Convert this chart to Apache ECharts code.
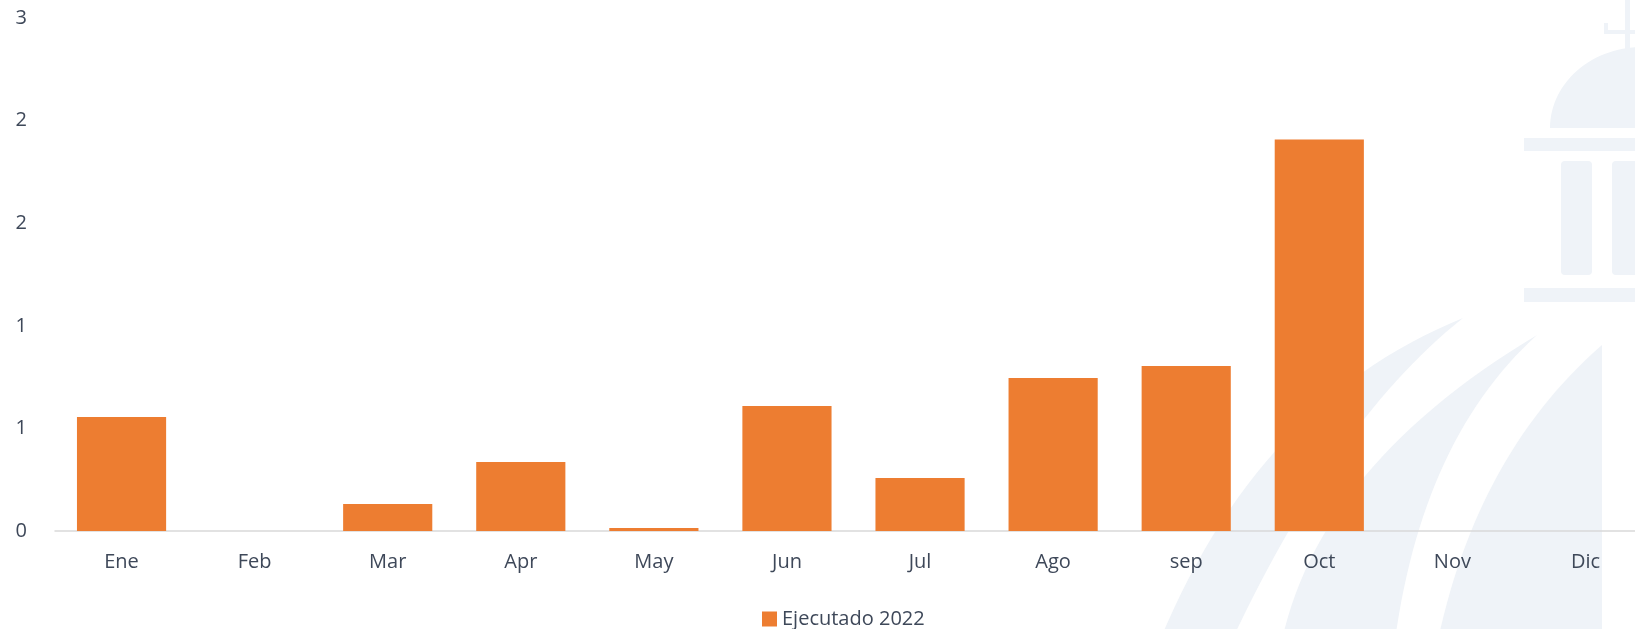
<!DOCTYPE html>
<html>
<head>
<meta charset="utf-8">
<script src="https://cdn.jsdelivr.net/npm/echarts@6/dist/echarts.min.js"></script>
<style>
  html, body { margin: 0; padding: 0; background: #fff; }
  #chart { width: 1635px; height: 629px; }
</style>
</head>
<body>
<div id="chart"></div>
<script>
// data
var months = ["Ene", "Feb", "Mar", "Apr", "May", "Jun", "Jul", "Ago", "sep", "Oct", "Nov", "Dic"];
var ejecutado2022 = [0.667, 0, 0.158, 0.404, 0.018, 0.731, 0.31, 0.895, 0.965, 2.29, 0, 0];
var seriesName = "Ejecutado 2022";

var textColor = "#3e4859";
var wmColor = "#eff3f8";

// sample a quadratic curve for the faint watermark shapes
function quad(p0, c, p1, n) {
  var pts = [];
  for (var i = 0; i <= n; i++) {
    var t = i / n, a = (1 - t) * (1 - t), b = 2 * (1 - t) * t, d = t * t;
    pts.push([a * p0[0] + b * c[0] + d * p1[0], a * p0[1] + b * c[1] + d * p1[1]]);
  }
  return pts;
}
function band(tip, lc, lb, rc, rb) {
  var left = quad(tip, lc, lb, 30);
  var right = quad(tip, rc, rb, 30).reverse();
  return left.concat(right);
}
function ellipseTop(cx, cy, rx, ry) {
  var pts = [];
  for (var i = 0; i <= 60; i++) {
    var a = Math.PI + Math.PI * i / 60;
    pts.push([cx + rx * Math.cos(a), cy + ry * Math.sin(a)]);
  }
  return pts;
}

var wm = [
  { type: "polygon", shape: { points: band([1463, 318], [1260, 400], [1160, 640], [1335, 420], [1232, 640]) } },
  { type: "polygon", shape: { points: band([1537, 335], [1321, 464], [1282, 640], [1423, 438], [1395, 640]) } },
  { type: "polygon", shape: { points: band([1602, 345], [1478, 453], [1438, 640], [1602, 450], [1602, 640]) } },
  { type: "polygon", shape: { points: ellipseTop(1642, 128, 92, 81) } },
  { type: "rect", shape: { x: 1625, y: 0, width: 5, height: 50 } },
  { type: "rect", shape: { x: 1604, y: 30, width: 35, height: 4 } },
  { type: "rect", shape: { x: 1604, y: 23, width: 4, height: 10 } },
  { type: "rect", shape: { x: 1524, y: 138, width: 120, height: 13 } },
  { type: "rect", shape: { x: 1561, y: 161, width: 31, height: 114, r: 4 } },
  { type: "rect", shape: { x: 1612, y: 161, width: 40, height: 114, r: 4 } },
  { type: "rect", shape: { x: 1524, y: 288, width: 120, height: 14 } }
].map(function (el) {
  el.style = { fill: wmColor };
  el.z = -10;
  el.silent = true;
  return el;
});

var myChart = echarts.init(document.getElementById("chart"));
var option = {
  backgroundColor: "#fff",
  animation: false,
  graphic: wm,
  grid: {
    left: 55,
    right: -17,
    top: 18,
    bottom: 98,
    containLabel: false,
    outerBoundsMode: "none"
  },
  legend: {
    data: [seriesName],
    left: 757,
    top: 604,
    icon: "rect",
    itemWidth: 15,
    itemHeight: 15,
    textStyle: {
      color: textColor,
      fontFamily: "Open Sans",
      fontSize: 20
    }
  },
  xAxis: {
    type: "category",
    data: months,
    axisTick: { show: false },
    axisLine: { lineStyle: { color: "#d9d9d9", width: 1.5 } },
    axisLabel: {
      color: textColor,
      fontFamily: "Open Sans",
      fontSize: 20,
      margin: 21
    }
  },
  yAxis: {
    type: "value",
    min: 0,
    max: 3,
    interval: 0.6,
    splitLine: { show: false },
    axisLine: { show: false },
    axisTick: { show: false },
    axisLabel: {
      color: textColor,
      fontFamily: "Open Sans",
      fontSize: 20,
      margin: 28,
      formatter: function (v) { return Math.round(v); }
    }
  },
  series: [
    {
      name: seriesName,
      type: "bar",
      data: ejecutado2022,
      barCategoryGap: "33%",
      itemStyle: { color: "#ed7d31" }
    }
  ]
};
myChart.setOption(option);
</script>
</body>
</html>
